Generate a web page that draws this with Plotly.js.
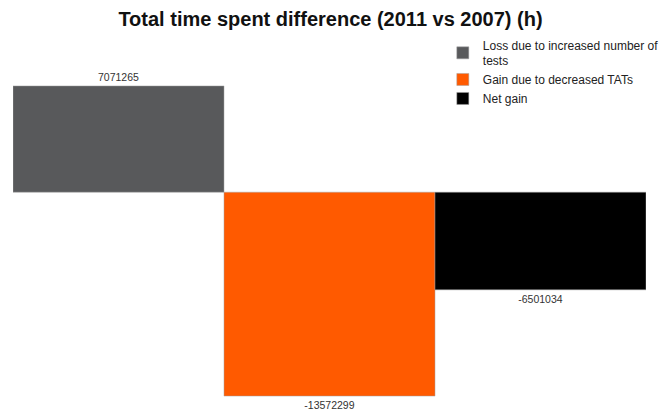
<!DOCTYPE html>
<html>
<head>
<meta charset="utf-8">
<script src="https://cdn.plot.ly/plotly-3.0.1.min.js"></script>
<style>html,body{margin:0;padding:0;background:#fff;overflow:hidden;}#chart{width:661px;height:416px;}</style>
</head>
<body>
<div id="chart"></div>
<script>
const categories = ["Loss due to increased number of tests", "Gain due to decreased TATs", "Net gain"];
const legendNames = ["Loss due to increased number of<br>tests", "Gain due to decreased TATs", "Net gain"];
const values = [7071265, -13572299, -6501034];
const colors = ["#58595b", "#ff5a00", "#000000"];

const traces = categories.map((c, i) => ({
  type: "bar",
  name: legendNames[i],
  x: [c],
  y: [values[i]],
  text: [String(values[i])],
  textposition: "outside",
  cliponaxis: false,
  textfont: {family: "Liberation Sans, Arial, sans-serif", size: 10.5, color: "#333"},
  marker: {color: colors[i], line: {color: "#a0a0a0", width: 0.5}},
  hoverinfo: "none"
}));

const layout = {
  width: 661, height: 416,
  margin: {l: 13, r: 15, t: 40, b: 6, autoexpand: false},
  paper_bgcolor: "#fff", plot_bgcolor: "#fff",
  title: {text: "<b>Total time spent difference (2011 vs 2007) (h)</b>",
    font: {family: "Liberation Sans, Arial, sans-serif", size: 20, color: "#111"},
    x: 0.5, xanchor: "center", y: 0.955, yanchor: "middle"},
  barmode: "overlay", bargap: 0,
  showlegend: true,
  legend: {x: 0.679, xanchor: "left", y: 1.025, yanchor: "top",
    font: {family: "Liberation Sans, Arial, sans-serif", size: 12, color: "#222"},
    bgcolor: "rgba(0,0,0,0)", tracegroupgap: 0, itemwidth: 30},
  xaxis: {visible: false, range: [-0.5, 2.5], type: "category"},
  yaxis: {visible: false, range: [-14500000, 10130000], zeroline: false, showgrid: false}
};

Plotly.newPlot("chart", traces, layout, {displayModeBar: false, staticPlot: true});
</script>
</body>
</html>
